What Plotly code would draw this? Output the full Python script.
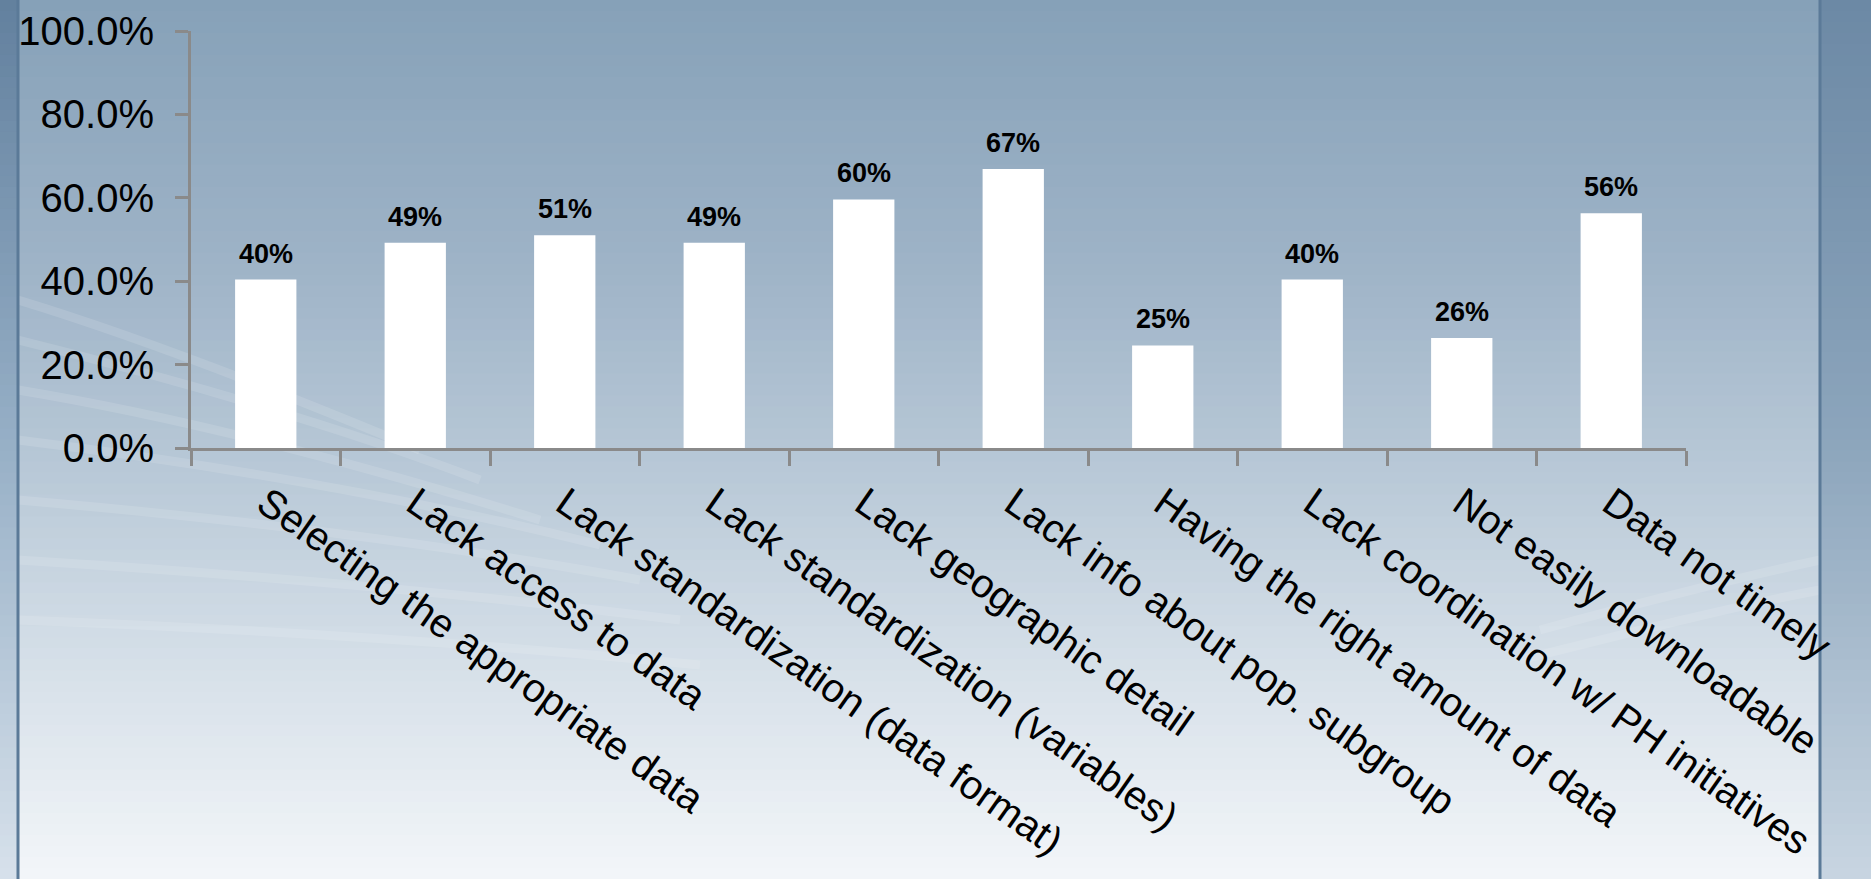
import plotly.graph_objects as go

categories = [
    "Selecting the appropriate data",
    "Lack access to data",
    "Lack standardization (data format)",
    "Lack standardization (variables)",
    "Lack geographic detail",
    "Lack info about pop. subgroup",
    "Having the right amount of data",
    "Lack coordination w/ PH initiatives",
    "Not easily downloadable",
    "Data not timely",
]
values = [40.4, 49.2, 51.0, 49.2, 59.6, 66.9, 24.6, 40.4, 26.4, 56.3]
y_ticks = [0, 20, 40, 60, 80, 100]

W, H = 1871, 879
L, R, T, B = 191, 1686, 31, 448


def px(xp):
    return (xp - L) / (R - L)


def py(yp):
    return (B - yp) / (B - T)


def lerp(c1, c2, t):
    return tuple(round(a + (b - a) * t) for a, b in zip(c1, c2))


def grad(stops, t):
    for i in range(len(stops) - 1):
        t0, c0 = stops[i]
        t1, c1 = stops[i + 1]
        if t0 <= t <= t1:
            return lerp(c0, c1, (t - t0) / (t1 - t0))
    return stops[-1][1]


main_stops = [(0.0, (134, 161, 184)), (0.3, (158, 179, 199)), (0.55, (186, 202, 216)),
              (0.75, (213, 223, 232)), (1.0, (243, 246, 249))]
left_stops = [(0.0, (98, 128, 158)), (0.5, (150, 175, 198)), (1.0, (215, 225, 235))]
right_stops = [(0.0, (108, 137, 165)), (0.5, (140, 165, 188)), (1.0, (200, 213, 225))]

shapes = []
N = 80
for i in range(N):
    y0 = H * i / N
    y1 = H * (i + 1) / N + 1
    t = (i + 0.5) / N
    for (xa, xb, st) in [(0, 18, left_stops), (18, 1820, main_stops), (1820, W, right_stops)]:
        c = grad(st, t)
        shapes.append(dict(type="rect", xref="paper", yref="paper",
                           x0=px(xa), x1=px(xb), y0=py(y1), y1=py(y0),
                           fillcolor="rgb(%d,%d,%d)" % c, line=dict(width=0), layer="below"))

# soft light streaks
streaks = [
    ((18, 300), (150, 340), (300, 400), (420, 450)),
    ((18, 340), (180, 380), (350, 430), (480, 480)),
    ((18, 390), (200, 420), (380, 470), (540, 520)),
    ((18, 440), (220, 465), (420, 500), (600, 545)),
    ((18, 500), (250, 520), (450, 545), (640, 580)),
    ((18, 560), (260, 575), (480, 595), (680, 620)),
    ((18, 620), (280, 630), (500, 645), (700, 665)),
    ((1820, 560), (1750, 575), (1650, 600), (1540, 630)),
    ((1820, 590), (1740, 605), (1640, 630), (1520, 660)),
]
for p in streaks:
    (x0, y0), (x1, y1), (x2, y2), (x3, y3) = p
    path = "M %f %f C %f %f %f %f %f %f" % (px(x0), py(y0), px(x1), py(y1), px(x2), py(y2), px(x3), py(y3))
    shapes.append(dict(type="path", xref="paper", yref="paper", path=path,
                       line=dict(color="rgba(255,255,255,0.12)", width=9), layer="below"))

for xl, col in [(18, "#5b7a98"), (1820, "#5b7a98")]:
    shapes.append(dict(type="line", xref="paper", yref="paper", x0=px(xl), x1=px(xl),
                       y0=py(H), y1=py(0), line=dict(color=col, width=3), layer="below"))

fig = go.Figure()
fig.add_trace(go.Bar(
    x=categories, y=values,
    marker=dict(color="white", line=dict(width=0)),
    width=0.41,
    hoverinfo="skip",
))

annotations = []
for c, v in zip(categories, values):
    annotations.append(dict(x=c, y=v, xref="x", yref="y", text="%.0f%%" % v,
                            showarrow=False, yanchor="bottom", yshift=9,
                            font=dict(family="Liberation Sans, Arial", size=27, color="black", weight="bold")))

fig.update_layout(
    width=W, height=H,
    margin=dict(l=L, r=W - R, t=T, b=H - B, pad=0, autoexpand=False),
    paper_bgcolor="rgb(180,196,211)",
    plot_bgcolor="rgba(0,0,0,0)",
    showlegend=False,
    shapes=shapes,
    annotations=annotations,
    xaxis=dict(
        automargin=False,
        showgrid=False, showline=True, linecolor="#8a8a8a", linewidth=3,
        ticks="outside", tickson="boundaries", ticklen=15, tickcolor="#8a8a8a", tickwidth=3,
        tickangle=35, ticklabelstandoff=13,
        tickfont=dict(family="Liberation Sans, Arial", size=40, color="black"),
        fixedrange=True,
    ),
    yaxis=dict(
        automargin=False,
        range=[0, 100], tickvals=y_ticks, ticktext=["%.1f%%" % v for v in y_ticks],
        showgrid=False, zeroline=False, showline=True, linecolor="#8a8a8a", linewidth=3,
        ticks="outside", ticklen=13, tickcolor="#8a8a8a", tickwidth=3,
        ticklabelstandoff=13,
        tickfont=dict(family="Liberation Sans, Arial", size=40, color="black"),
        fixedrange=True,
    ),
)

fig.write_html("out.html", config={"displayModeBar": False})
